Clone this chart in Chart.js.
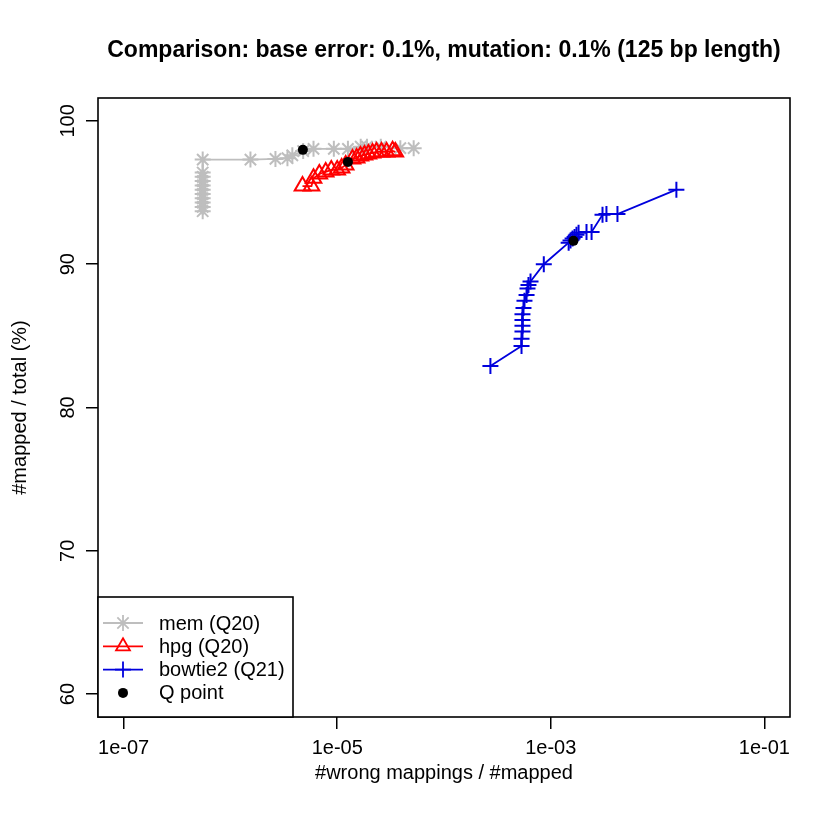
<!DOCTYPE html>
<html>
<head>
<meta charset="utf-8">
<script src="https://cdn.jsdelivr.net/npm/chart.js@4"></script>
<style>
  html, body { margin: 0; padding: 0; background: #fff; }
</style>
</head>
<body>
<canvas id="chart" width="840" height="840"></canvas>
<script>
// labels
const titleText = 'Comparison: base error: 0.1%, mutation: 0.1% (125 bp length)';
const xLabel = '#wrong mappings / #mapped';
const yLabel = '#mapped / total (%)';
const seriesNames = ['mem (Q20)', 'hpg (Q20)', 'bowtie2 (Q21)', 'Q point'];

// ticks
const xTicks = [1e-7, 1e-5, 1e-3, 1e-1];
const xTickLabels = ['1e-07', '1e-05', '1e-03', '1e-01'];
const yTicks = [60, 70, 80, 90, 100];

// mem (grey asterisks)
const memX = [5.5e-7, 5.5e-7, 5.5e-7, 5.5e-7, 5.5e-7, 5.5e-7, 5.5e-7, 5.5e-7, 5.5e-7, 5.5e-7, 5.5e-7,
              1.54e-6, 2.64e-6, 3.42e-6, 3.8e-6, 4.8e-6, 6.0e-6, 9.3e-6, 1.26e-5, 1.66e-5, 1.9e-5, 2.56e-5, 3.9e-5, 5.2e-5];
const memY = [93.7, 94.0, 94.3, 94.6, 94.9, 95.2, 95.5, 95.8, 96.1, 96.4, 97.3,
              97.3, 97.35, 97.4, 97.6, 97.9, 98.05, 98.05, 98.05, 98.2, 98.2, 98.2, 98.1, 98.1];

// hpg (red triangles)
const hpgX = [4.73e-6, 5.74e-6, 6.0e-6, 6.8e-6, 7.8e-6, 8.8e-6, 1.0e-5, 1.1e-5, 1.2e-5, 1.39e-5,
              1.52e-5, 1.65e-5, 1.8e-5, 1.96e-5, 2.14e-5, 2.33e-5, 2.6e-5, 2.9e-5, 3.3e-5, 3.5e-5];
const hpgY = [95.45, 95.45, 96.0, 96.3, 96.44, 96.58, 96.58, 96.72, 96.93, 97.35,
              97.42, 97.56, 97.63, 97.7, 97.77, 97.84, 97.84, 97.84, 97.91, 97.84];

// bowtie2 (blue plus)
const bowX = [2.72e-4, 5.32e-4, 5.32e-4, 5.43e-4, 5.43e-4, 5.43e-4, 5.43e-4, 5.55e-4, 5.67e-4, 5.93e-4, 6.05e-4, 6.18e-4, 6.46e-4,
              8.6e-4, 1.47e-3, 1.53e-3, 1.60e-3, 1.67e-3, 1.74e-3, 1.82e-3, 2.16e-3, 2.41e-3, 3.05e-3, 3.32e-3, 4.21e-3, 1.50e-2];
const bowY = [82.9, 84.3, 84.8, 85.3, 85.7, 86.1, 86.5, 86.95, 87.45, 87.85, 88.3, 88.55, 88.8,
              90.0, 91.5, 91.65, 91.8, 91.9, 92.05, 92.2, 92.25, 92.25, 93.45, 93.5, 93.5, 95.2];

// Q points (black dots)
const qX = [4.77e-6, 1.26e-5, 1.63e-3];
const qY = [97.98, 97.14, 91.63];

const colors = ['#bebebe', '#ff0000', '#0000dd', '#000000'];
const styles = ['star', 'triangle', 'cross', 'circle'];
const radii = [8, 9, 8, 5];

function pts(xs, ys) {
    return xs.map((x, i) => ({x: x, y: ys[i]}));
}

const FONT = '"Liberation Sans", Arial, Helvetica, sans-serif';
Chart.defaults.font.family = FONT;
Chart.defaults.font.size = 20;
Chart.defaults.color = '#000';

// box, title and legend drawn the way R does it
const rFrame = {
    id: 'rFrame',
    afterDraw(chart) {
        const ctx = chart.ctx, a = chart.chartArea;
        ctx.save();
        ctx.strokeStyle = '#000';
        ctx.lineWidth = 1.6;
        ctx.strokeRect(a.left, a.top, a.right - a.left, a.bottom - a.top);

        ctx.fillStyle = '#000';
        ctx.font = 'bold 23px ' + FONT;
        ctx.textAlign = 'center';
        ctx.textBaseline = 'middle';
        ctx.fillText(titleText, (a.left + a.right) / 2, 51);

        const bw = 195, bh = 120;
        const bx = a.left, by = a.bottom - bh;
        ctx.fillStyle = '#fff';
        ctx.fillRect(bx, by, bw, bh);
        ctx.strokeRect(bx, by, bw, bh);
        ctx.font = '20px ' + FONT;
        ctx.textAlign = 'left';
        for (let i = 0; i < seriesNames.length; i++) {
            const y = by + 26 + i * 23.3;
            ctx.strokeStyle = colors[i];
            ctx.fillStyle = i == 1 ? 'rgba(0,0,0,0)' : colors[i];
            ctx.lineWidth = 1.8;
            if (i < 3) {
                ctx.beginPath();
                ctx.moveTo(bx + 5, y);
                ctx.lineTo(bx + 45, y);
                ctx.stroke();
            }
            Chart.helpers.drawPoint(ctx, {pointStyle: styles[i], radius: i == 1 ? 8 : radii[i], borderWidth: i == 3 ? 0 : 2, rotation: 0}, bx + 25, y);
            ctx.fillStyle = '#000';
            ctx.fillText(seriesNames[i], bx + 61, y + 1);
        }
        ctx.restore();
    }
};

const datasets = [
    {data: pts(memX, memY), order: 4},
    {data: pts(hpgX, hpgY), order: 3},
    {data: pts(bowX, bowY), order: 2},
    {data: pts(qX, qY), order: 1}
].map((d, i) => Object.assign(d, {
    label: seriesNames[i],
    showLine: i < 3,
    borderColor: colors[i],
    backgroundColor: i == 1 ? 'rgba(0,0,0,0)' : colors[i],
    borderWidth: 1.8,
    pointStyle: styles[i],
    pointRadius: radii[i],
    pointBorderWidth: i == 3 ? 0 : 2,
    pointBackgroundColor: i == 1 ? 'rgba(0,0,0,0)' : colors[i],
    pointBorderColor: colors[i]
}));

new Chart(document.getElementById('chart').getContext('2d'), {
    type: 'scatter',
    data: {datasets: datasets},
    options: {
        responsive: false,
        animation: false,
        layout: {padding: {top: 98, right: 50, bottom: 0, left: 0}},
        plugins: {legend: {display: false}, tooltip: {enabled: false}, title: {display: false}},
        scales: {
            x: {
                type: 'logarithmic',
                min: Math.pow(10, -7.24),
                max: Math.pow(10, -0.76),
                afterBuildTicks: s => { s.ticks = xTicks.map(v => ({value: v})); },
                afterFit: s => { s.height = 123; },
                ticks: {
                    autoSkip: false, maxRotation: 0, minRotation: 0, padding: 7,
                    callback: v => xTickLabels[xTicks.indexOf(v)]
                },
                grid: {drawOnChartArea: false, drawTicks: true, tickLength: 12, color: '#000', lineWidth: 1.5},
                border: {display: false},
                title: {display: true, text: xLabel, padding: {top: 0, bottom: 55}}
            },
            y: {
                type: 'linear',
                min: 58.4,
                max: 101.6,
                afterBuildTicks: s => { s.ticks = yTicks.map(v => ({value: v})); },
                afterFit: s => { s.width = 98; },
                ticks: {minRotation: 90, maxRotation: 90, crossAlign: 'center', padding: 1},
                grid: {drawOnChartArea: false, drawTicks: true, tickLength: 12, color: '#000', lineWidth: 1.5},
                border: {display: false},
                title: {display: true, text: yLabel, padding: {top: 8, bottom: 0}}
            }
        }
    },
    plugins: [rFrame]
});
</script>
</body>
</html>
